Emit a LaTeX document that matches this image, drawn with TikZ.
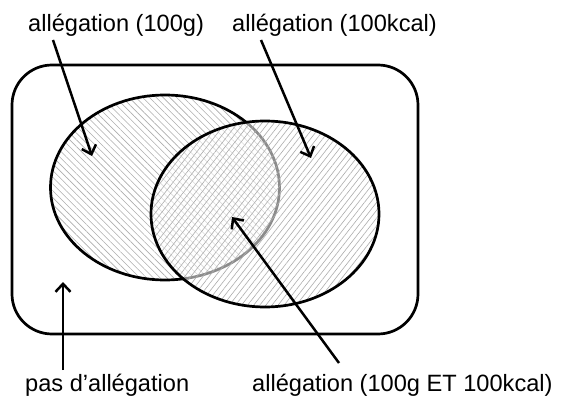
\documentclass[tikz,border=0pt]{standalone}
\usepackage{fontspec}
\setmainfont{Liberation Sans}
\usetikzlibrary{patterns.meta,arrows.meta}

\tikzset{
  label/.style={inner sep=0pt, anchor=west, font=\fontsize{23.6}{28}\selectfont},
  outline/.style={line width=2.7pt, draw=black},
  pointer/.style={line width=2.5pt, -{Straight Barb[length=8pt,width=15pt,line width=2.5pt]}},
  hatchA/.style={pattern={Lines[angle=-45,distance=4.8pt,line width=0.6pt]}, pattern color=black!32},
  hatchB/.style={pattern={Lines[angle=52,distance=4.8pt,line width=0.6pt]}, pattern color=black!32},
}

\begin{document}
\begin{tikzpicture}[x=1pt,y=-1pt]
  \useasboundingbox (0,0) rectangle (566,396);

  % universe
  \draw[outline, rounded corners=40pt] (12,65) rectangle (418,334);

  % first set
  \fill[hatchA] (165,187.5) ellipse [x radius=114.5, y radius=92.5];
  \draw[outline] (165,187.5) ellipse [x radius=114.5, y radius=92.5];

  % second set, laid over the first with a veil
  \fill[white, fill opacity=0.55] (265,214) ellipse [x radius=114, y radius=93];
  \fill[hatchB] (265,214) ellipse [x radius=114, y radius=93];
  \draw[outline] (265,214) ellipse [x radius=114, y radius=93];

  % labels
  \node[label] (l100g) at (28,25) {allégation (100g)};
  \node[label] (l100k) at (232,25) {allégation (100kcal)};
  \node[label] (lnone) at (25,385) {pas d’allégation};
  \node[label] (lboth) at (252,385) {allégation (100g ET 100kcal)};

  % arrow ends
  \coordinate (s1) at (53,40);   \coordinate (t1) at (92,156);
  \coordinate (s2) at (261,40);  \coordinate (t2) at (311,158);
  \coordinate (s3) at (63,370);  \coordinate (t3) at (63,282);
  \coordinate (s4) at (339,363); \coordinate (t4) at (232,217);

  \draw[pointer] (s1) -- (t1);
  \draw[pointer] (s2) -- (t2);
  \draw[pointer] (s3) -- (t3);
  \draw[pointer] (s4) -- (t4);
\end{tikzpicture}
\end{document}
